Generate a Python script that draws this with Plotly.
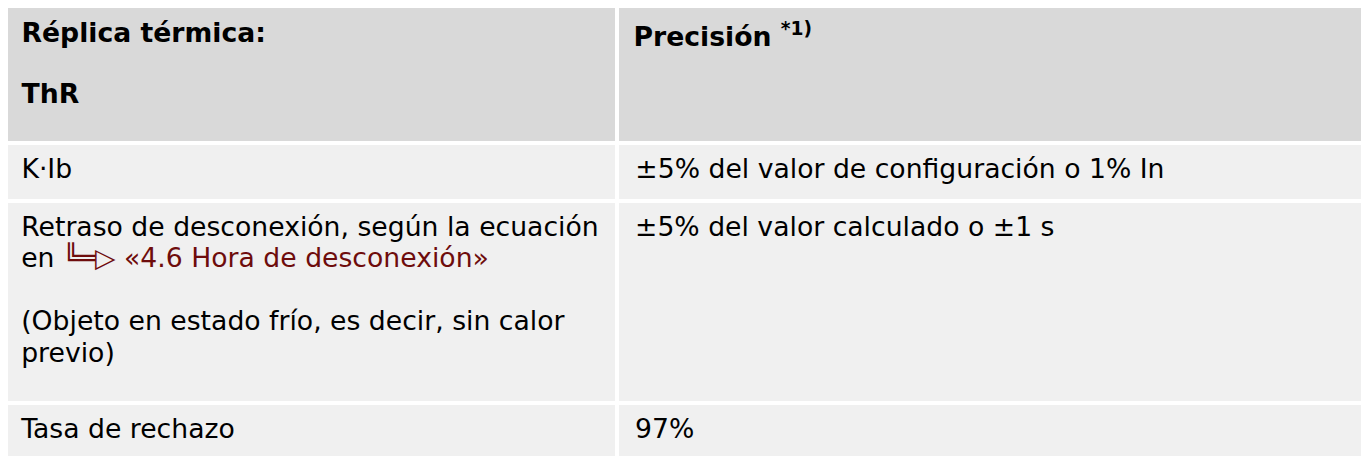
import plotly.graph_objects as go

# ---- table content ----
header_col1 = ["Réplica térmica:", "", "ThR"]
header_col2 = "Precisión"
header_col2_note = "*1)"

param_names = ["K·Ib", "Retraso de desconexión, según la ecuación", "Tasa de rechazo"]
param_link_prefix = "en"
param_link_icon = "╚═▷"
param_link_text = "«4.6 Hora de desconexión»"
param_note = ["(Objeto en estado frío, es decir, sin calor", "previo)"]

accuracy = [
    "±5% del valor de configuración o 1% In",
    "±5% del valor calculado o ±1 s",
    "97%",
]

# ---- styling ----
FONT = "DejaVu Sans"
TXT = 26.67          # visible text size (px)
HEADER_BG = "#d9d9d9"
CELL_BG = "#f0f0f0"
LINK = "#6e0c0c"


def pad(f, extra=""):
    # leading indent; its size also sets the first baseline of the cell
    return f"<span style='font-size:{f}px'>\u2005{extra}</span>"


def ln(txt, f, bold=False, extra=""):
    if not txt:
        return ""
    body = f"<b>{txt}</b>" if bold else txt
    return pad(f, extra) + f"<span style='font-size:{TXT}px'>{body}</span>"


def single(txt, f, extra=""):
    # trailing <br> keeps the table from re-wrapping the markup
    return ln(txt, f, extra=extra) + "<br>"


C2 = "\u200a"  # tiny extra indent for the second column

link_line = (f"{param_link_prefix} <span style='color:{LINK}'>"
             f"{param_link_icon} {param_link_text}</span>")

hdr = [
    "<br>".join(ln(t, 29.85, bold=True) for t in header_col1),
    single(f"<b>{header_col2} <sup>{header_col2_note}</sup></b>", 34.2),
]

row3_lines = [param_names[1], link_line, "", param_note[0], param_note[1]]
col1 = [
    single(param_names[0], 29.6),
    "<br>".join(ln(t, 28.8) for t in row3_lines) + "<br><span style='font-size:6.4px'>\u00a0</span>",
    single(param_names[2], 28.6),
]
col2 = [
    single(accuracy[0], 29.6, C2),
    single(accuracy[1], 28.8, C2),
    single(accuracy[2], 28.6, C2),
]

W, H = 1366, 456
fig = go.Figure(
    go.Table(
        domain=dict(x=[6 / W, 1363 / W], y=[0, 1 - 6 / H]),
        columnwidth=[611, 746],
        header=dict(
            values=hdr,
            fill_color=HEADER_BG,
            line=dict(color="white", width=4),
            font=dict(family=FONT, size=23.46, color="black"),
            align="left",
            height=136.5,
        ),
        cells=dict(
            values=[col1, col2],
            fill_color=CELL_BG,
            line=dict(color="white", width=4),
            font=dict(family=FONT, size=24.2, color="black"),
            align="left",
            height=58.5,
        ),
    )
)
fig.add_shape(
    type="rect", xref="paper", yref="paper",
    x0=4.5 / W, x1=1363.5 / W, y0=-0.1, y1=1 - 4.5 / H,
    line=dict(color="#e4e4e4", width=1), fillcolor="rgba(0,0,0,0)", layer="below",
)
fig.update_layout(
    width=W, height=H,
    margin=dict(l=0, r=0, t=0, b=0),
    paper_bgcolor="white", plot_bgcolor="white",
)
fig.write_html(
    "out.html",
    config={"displayModeBar": False},
    post_script="document.body.style.margin='0';document.body.style.overflow='hidden';",
)
